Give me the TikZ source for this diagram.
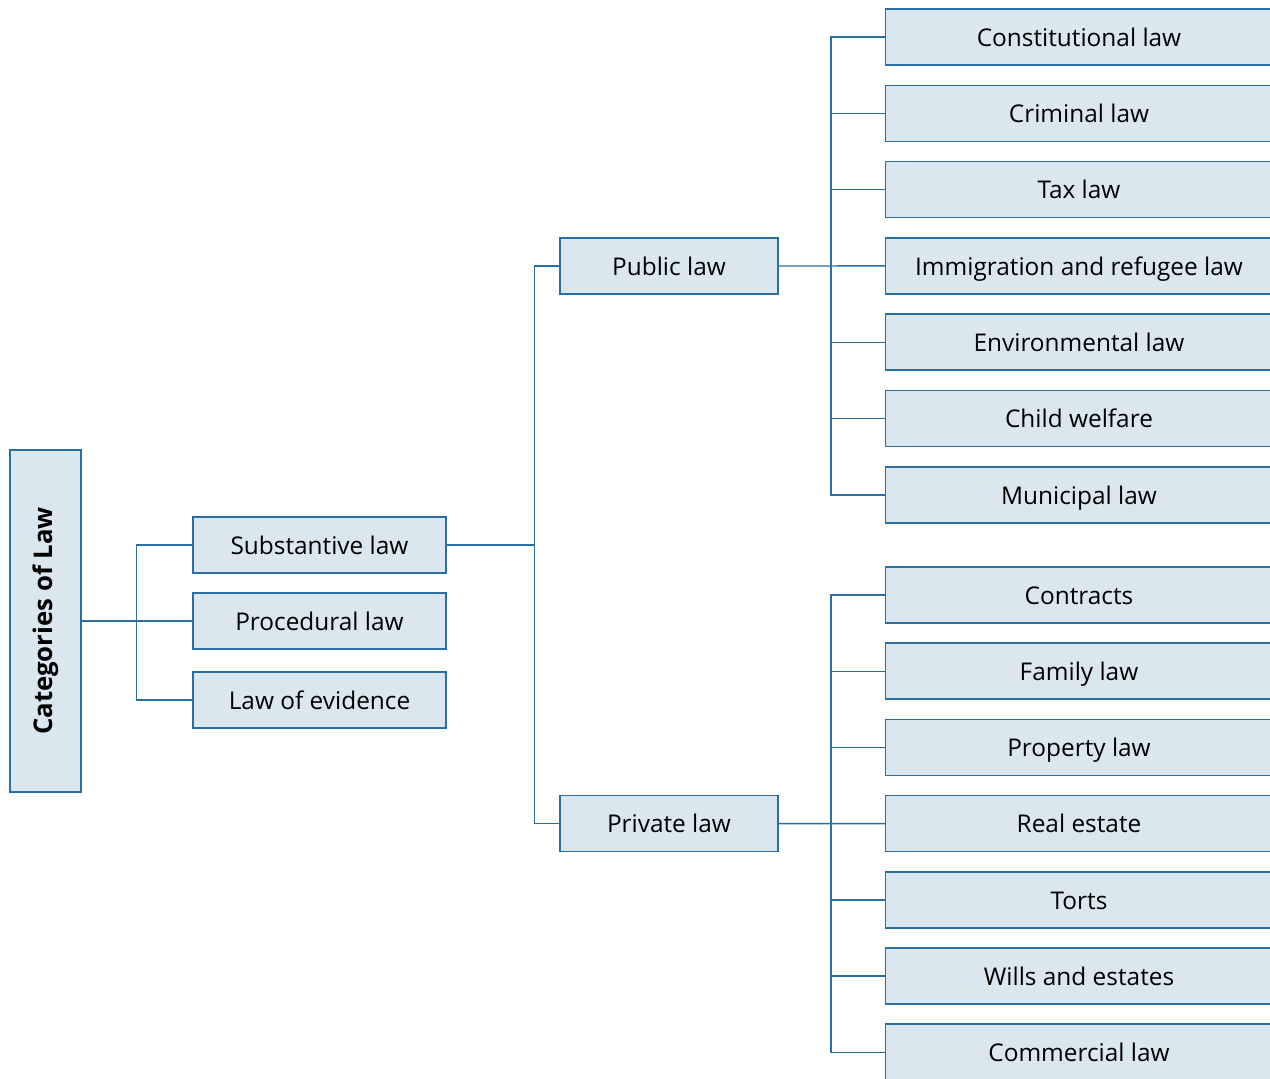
\documentclass[tikz,border=0pt]{standalone}
\usepackage{fontspec}
\setmainfont{Open Sans}
\definecolor{boxfill}{HTML}{DAE7EF}
\definecolor{boxline}{HTML}{2A6FA3}
\begin{document}
\begin{tikzpicture}[x=0.75pt,y=-0.75pt,
  box/.style={draw=boxline, fill=boxfill, line width=1.1pt, inner sep=0pt, text=black, font=\fontsize{18.3}{22}\selectfont, text height=15pt, text depth=1pt},
  lvtwo/.style={box, minimum width=189.75pt, minimum height=42pt},
  lvthree/.style={box, minimum width=163.5pt, minimum height=42pt},
  leaf/.style={box, minimum width=290pt, minimum height=42pt},
  conn/.style={draw=boxline, line width=1.05pt}]
\useasboundingbox (0,0) rectangle (1270,1078);
\clip (0,0) rectangle (1270,1078);
\fill[white] (0,0) rectangle (1270,1078);

\node[draw=boxline, fill=boxfill, line width=1.1pt, inner sep=0pt, minimum width=53.25pt, minimum height=256.5pt] (cat) at (45.5,621)
  {\rotatebox{90}{\fontsize{19.3}{23}\selectfont\bfseries Categories of Law}};

\node[lvtwo] (sub) at (319.5,545) {Substantive law};
\node[lvtwo] (proc) at (319.5,621) {Procedural law};
\node[lvtwo] (evid) at (319.5,700) {Law of evidence};

\node[lvthree] (pub) at (669,266) {Public law};
\node[lvthree] (priv) at (669,823.6) {Private law};

\foreach \t [count=\i from 0] in {Constitutional law, Criminal law, Tax law, Immigration and refugee law, Environmental law, Child welfare, Municipal law}
  \node[leaf] (pu\i) at (1079,37+76.3*\i) {\t};
\foreach \t [count=\i from 0] in {Contracts, Family law, Property law, Real estate, Torts, Wills and estates, Commercial law}
  \node[leaf] (pr\i) at (1079,595+76.2*\i) {\t};

\coordinate (j1) at (535,545);

% level 1 -> level 2
\draw[conn] (cat.east) -- (proc.west);
\draw[conn] (sub.west) -- ++(-56,0) |- (evid.west);

% substantive -> public/private
\draw[conn] (sub.east) -- (j1);
\draw[conn] (pub.west) -- ++(-25,0) |- (priv.west);

% public -> leaves
\draw[conn] (pub.east) -- (pu3.west);
\draw[conn] (pu0.west) -- ++(-54,0) |- (pu6.west);
\foreach \i in {1,2,4,5} \draw[conn] (pu\i.west) -- ++(-54,0);

% private -> leaves
\draw[conn] (priv.east) -- (pr3.west);
\draw[conn] (pr0.west) -- ++(-54,0) |- (pr6.west);
\foreach \i in {1,2,4,5} \draw[conn] (pr\i.west) -- ++(-54,0);
\end{tikzpicture}
\end{document}
